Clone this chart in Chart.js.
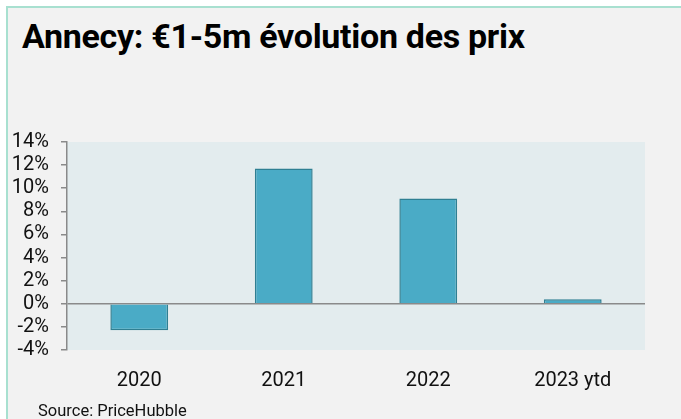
<!DOCTYPE html>
<html>
<head>
<meta charset="utf-8">
<script src="https://cdn.jsdelivr.net/npm/chart.js@4"></script>
<style>
  html, body { margin: 0; padding: 0; background: #fff; }
  body { width: 681px; height: 419px; position: relative; overflow: hidden; font-family: Roboto, sans-serif; }
  .frame { position: absolute; left: 6px; top: 6px; right: 0; bottom: 0; background: #f2f2f2;
           border-left: 2px solid #a8e0d0; border-top: 2px solid #a8e0d0; }
  h1 { position: absolute; left: 22px; top: 19px; margin: 0; font-size: 34px; line-height: 1; font-weight: bold; color: #000; letter-spacing: -0.3px; }
  .source { position: absolute; left: 38px; top: 403px; font-size: 16.5px; line-height: 1; color: #111; }
  .wrap { position: absolute; left: 0; top: 0; width: 681px; height: 419px; }
</style>
</head>
<body>
<div class="frame"></div>
<h1>Annecy: €1-5m évolution des prix</h1>
<div class="wrap"><canvas id="priceChart"></canvas></div>
<div class="source">Source: PriceHubble</div>
<script>
// données du graphique
const years = ['2020', '2021', '2022', '2023 ytd'];
const priceChange = [-2.3, 11.7, 9.1, 0.4];
const yTicks = [-4, -2, 0, 2, 4, 6, 8, 10, 12, 14];

// fond gris-bleu de la zone du graphique
const plotBg = {
  id: 'plotBg',
  beforeDraw(chart) {
    const { ctx, chartArea: a } = chart;
    ctx.save();
    ctx.fillStyle = '#e3ecee';
    ctx.fillRect(a.left, a.top, a.right - a.left, a.bottom - a.top);
    ctx.restore();
  }
};

const ctx = document.getElementById('priceChart').getContext('2d');

const priceChart = new Chart(ctx, {
  type: 'bar',
  data: {
    labels: years,
    datasets: [{
      data: priceChange,
      backgroundColor: '#4aabc6',
      borderColor: '#2f7f92',
      borderWidth: 1.5,
      barPercentage: 0.4,
      categoryPercentage: 1
    }]
  },
  options: {
    responsive: true,
    maintainAspectRatio: false,
    animation: false,
    layout: {
      padding: { left: 0, top: 142, right: 36, bottom: 29 }
    },
    plugins: {
      legend: { display: false },
      tooltip: { enabled: false }
    },
    scales: {
      x: {
        grid: { display: false },
        border: { display: false },
        ticks: {
          padding: 11,
          color: '#111',
          font: { family: 'Roboto', size: 20 }
        },
        afterFit(scale) { scale.height = 40; }
      },
      y: {
        min: -4,
        max: 14,
        afterBuildTicks(scale) {
          scale.ticks = yTicks.map(v => ({ value: v }));
        },
        grid: {
          drawOnChartArea: true,
          color: c => (c.tick && c.tick.value === 0) ? '#8a8a8a' : 'rgba(0,0,0,0)',
          lineWidth: 1.5,
          tickColor: '#8a8a8a',
          tickLength: 6
        },
        border: { display: true, color: '#8a8a8a', width: 1.5 },
        ticks: {
          autoSkip: false,
          padding: 12,
          color: '#111',
          font: { family: 'Roboto', size: 20 },
          callback: v => v + '%'
        },
        afterFit(scale) { scale.width = 67; }
      }
    }
  },
  plugins: [plotBg]
});
</script>
</body>
</html>
